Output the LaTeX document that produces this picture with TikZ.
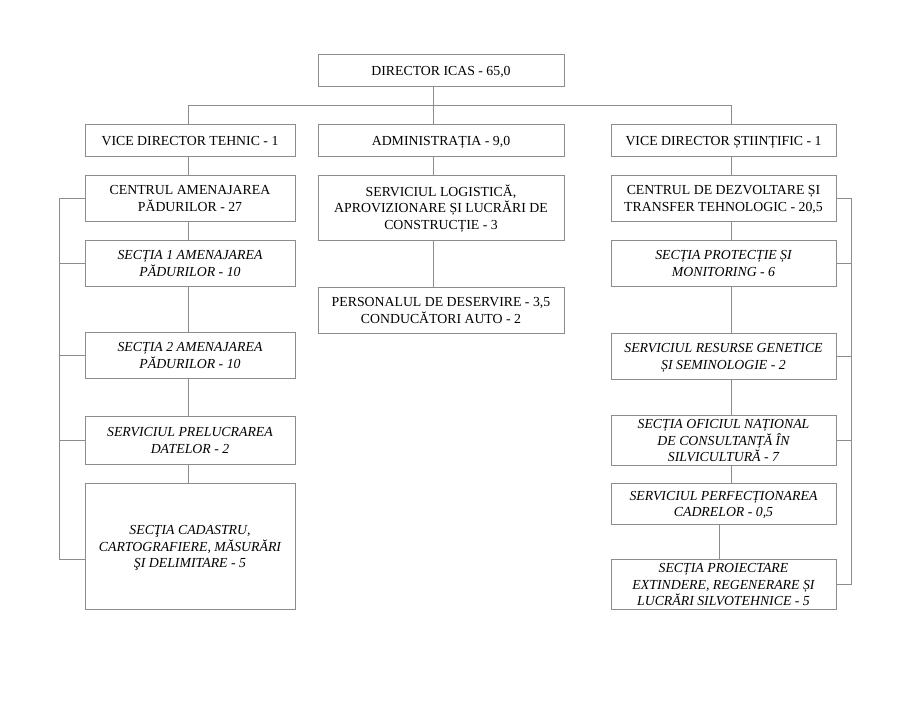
\documentclass[tikz,border=0pt]{standalone}
\usepackage{fontspec}
\setmainfont{Liberation Serif}
\newcommand{\bxt}[1]{\raisebox{-1.8pt}[\height][\depth]{\begin{tabular}{@{}c@{}}#1\end{tabular}}}
\begin{document}
\begin{tikzpicture}[x=1pt,y=-1pt,
  box/.style={draw=gray!90, line width=0.9pt, rectangle, inner sep=0pt,
    font=\fontsize{13.8}{16.5}\selectfont, text=black},
  ibox/.style={box, font=\fontsize{13.8}{16.5}\selectfont\itshape},
  conn/.style={draw=gray!90, line width=0.9pt}]
\useasboundingbox[fill=white] (0,0) rectangle (914,706);
% top
\node[box, minimum width=246, minimum height=32] (dir) at (441,70) {\bxt{DIRECTOR ICAS - 65,0}};
\node[box, minimum width=210, minimum height=32] (vt) at (190,140) {\bxt{VICE DIRECTOR TEHNIC - 1}};
\node[box, minimum width=246, minimum height=32] (adm) at (441,140) {\bxt{ADMINISTRAȚIA - 9,0}};
\node[box, minimum width=225, minimum height=32] (vs) at (723.5,140) {\bxt{VICE DIRECTOR ȘTIINȚIFIC - 1}};
% left column
\node[box, minimum width=210, minimum height=46] (ca) at (190,198) {\bxt{CENTRUL AMENAJAREA\\PĂDURILOR - 27}};
\node[ibox, minimum width=210, minimum height=46] (s1) at (190,263) {\bxt{SECȚIA 1 AMENAJAREA\\PĂDURILOR - 10}};
\node[ibox, minimum width=210, minimum height=46] (s2) at (190,355) {\bxt{SECȚIA 2 AMENAJAREA\\PĂDURILOR - 10}};
\node[ibox, minimum width=210, minimum height=48] (pd) at (190,440) {\bxt{SERVICIUL PRELUCRAREA\\DATELOR - 2}};
\node[ibox, minimum width=210, minimum height=126] (cad) at (190,546) {\bxt{SECŢIA CADASTRU,\\CARTOGRAFIERE, MĂSURĂRI\\ŞI DELIMITARE - 5}};
% middle column
\node[box, minimum width=246, minimum height=65] (log) at (441,207.5) {\bxt{SERVICIUL LOGISTICĂ,\\APROVIZIONARE ȘI LUCRĂRI DE\\CONSTRUCȚIE - 3}};
\node[box, minimum width=246, minimum height=46] (pers) at (441,310) {\bxt{PERSONALUL DE DESERVIRE - 3,5\\CONDUCĂTORI AUTO - 2}};
% right column
\node[box, minimum width=225, minimum height=46] (cd) at (723.5,198) {\bxt{CENTRUL DE DEZVOLTARE ȘI\\TRANSFER TEHNOLOGIC - 20,5}};
\node[ibox, minimum width=225, minimum height=46] (sp) at (723.5,263) {\bxt{SECȚIA PROTECȚIE ȘI\\MONITORING - 6}};
\node[ibox, minimum width=225, minimum height=46] (sr) at (723.5,356) {\bxt{SERVICIUL RESURSE GENETICE\\ȘI SEMINOLOGIE - 2}};
\node[ibox, minimum width=225, minimum height=48] (so) at (723.5,440) {\bxt{SECȚIA OFICIUL NAȚIONAL\\DE CONSULTANȚĂ ÎN\\SILVICULTURĂ - 7}};
\node[ibox, minimum width=225, minimum height=41] (spf) at (723.5,503.5) {\bxt{SERVICIUL PERFECȚIONAREA\\CADRELOR - 0,5}};
\node[ibox, minimum width=225, minimum height=50] (spr) at (723.5,584) {\bxt{SECȚIA PROIECTARE\\EXTINDERE, REGENERARE ȘI\\LUCRĂRI SILVOTEHNICE - 5}};
% column coordinates
\coordinate (cl) at (188,0);
\coordinate (cm) at (433,0);
\coordinate (cr) at (731,0);
\coordinate (cr2) at (719,0);
\coordinate (bus) at (0,105);
\coordinate (bl) at (59,0);
\coordinate (br) at (851,0);
\coordinate (cadstub) at (85,559);
% connectors
\draw[conn] (dir.south -| cm) -- (adm.north -| cm);
\draw[conn] (vt.north -| cl) -- (cl |- bus) -- (cr |- bus) -- (vs.north -| cr);
\draw[conn] (vt.south -| cl) -- (ca.north -| cl);
\draw[conn] (ca.south -| cl) -- (s1.north -| cl);
\draw[conn] (s1.south -| cl) -- (s2.north -| cl);
\draw[conn] (s2.south -| cl) -- (pd.north -| cl);
\draw[conn] (pd.south -| cl) -- (cad.north -| cl);
\draw[conn] (adm.south -| cm) -- (log.north -| cm);
\draw[conn] (log.south -| cm) -- (pers.north -| cm);
\draw[conn] (vs.south -| cr) -- (cd.north -| cr);
\draw[conn] (cd.south -| cr) -- (sp.north -| cr);
\draw[conn] (sp.south -| cr) -- (sr.north -| cr);
\draw[conn] (sr.south -| cr) -- (so.north -| cr);
\draw[conn] (so.south -| cr) -- (spf.north -| cr);
\draw[conn] (spf.south -| cr2) -- (spr.north -| cr2);
% left bracket
\draw[conn] (ca.west) -- (ca.west -| bl) -- (bl |- cadstub) -- (cadstub);
\draw[conn] (s1.west) -- (s1.west -| bl);
\draw[conn] (s2.west) -- (s2.west -| bl);
\draw[conn] (pd.west) -- (pd.west -| bl);
% right bracket
\draw[conn] (cd.east) -- (cd.east -| br) -- (br |- spr.east) -- (spr.east);
\draw[conn] (sp.east) -- (sp.east -| br);
\draw[conn] (sr.east) -- (sr.east -| br);
\draw[conn] (so.east) -- (so.east -| br);
\end{tikzpicture}
\end{document}
